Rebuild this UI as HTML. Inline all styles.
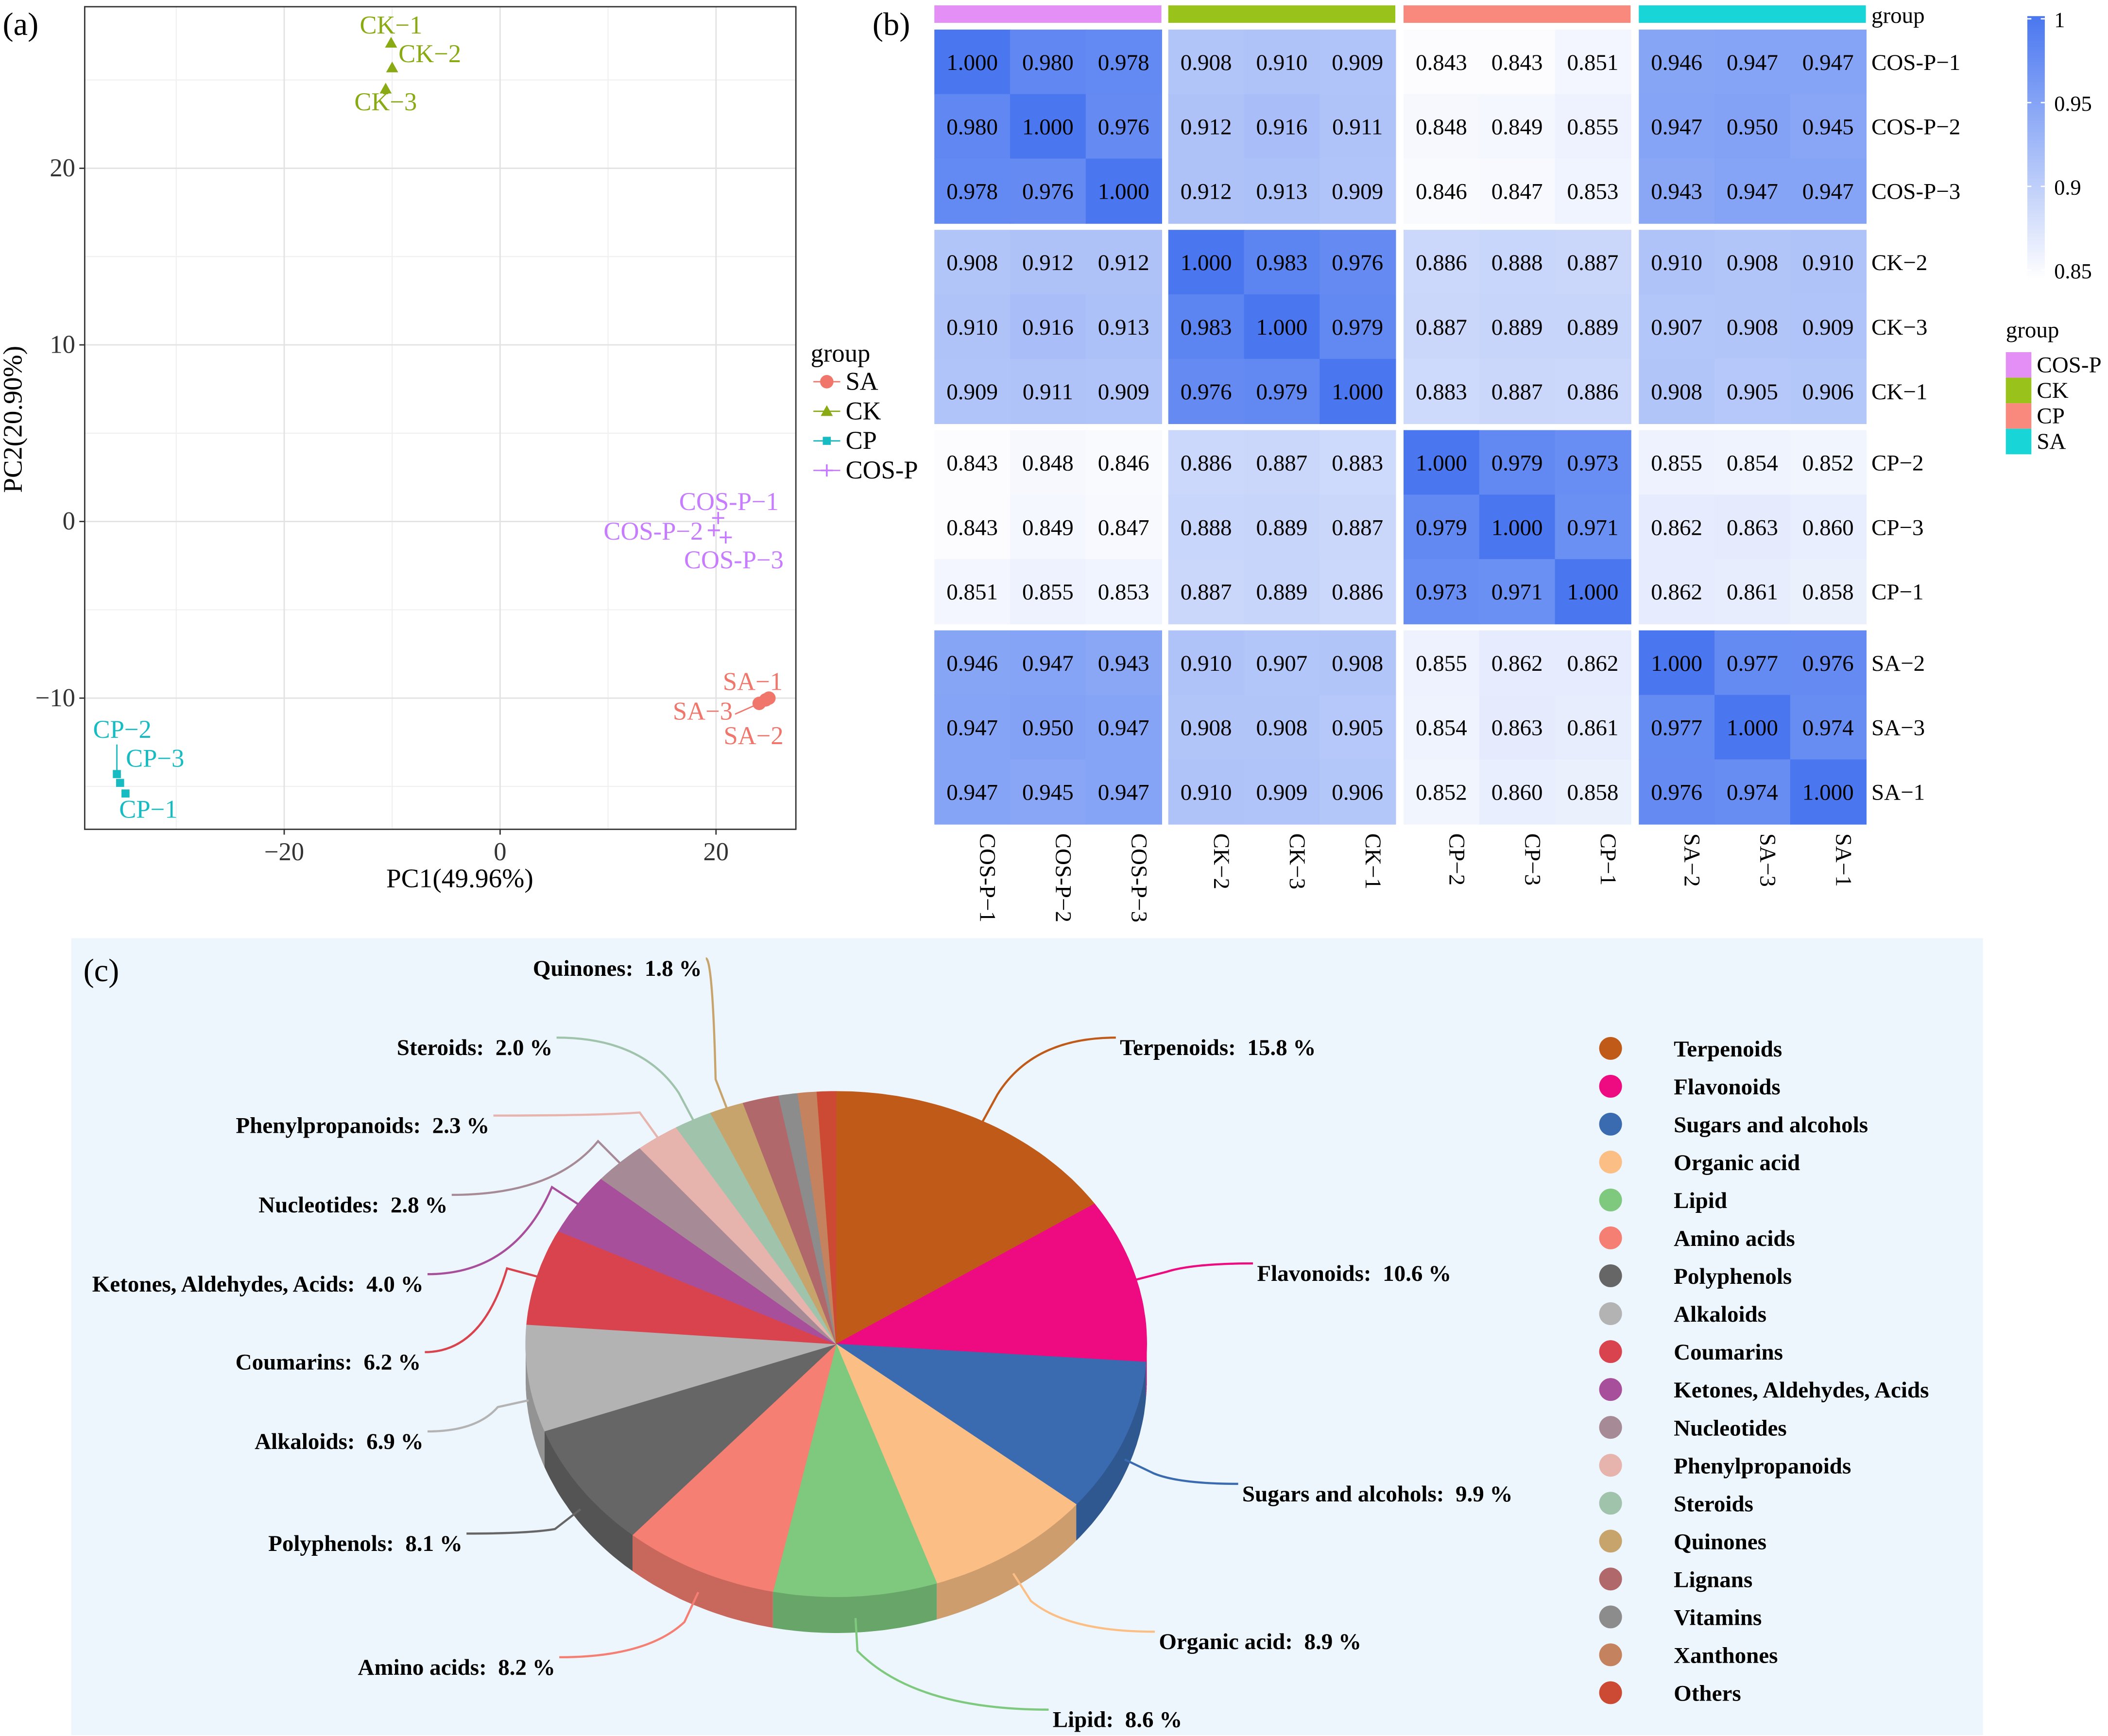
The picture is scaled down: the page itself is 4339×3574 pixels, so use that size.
<!DOCTYPE html>
<html><head><meta charset="utf-8"><style>
html,body{margin:0;padding:0;background:#fff;}
svg{display:block;}
svg text{font-family:"Liberation Serif","Times New Roman",serif;white-space:pre;}
</style></head><body>
<svg id="root" width="4339" height="3574" viewBox="0 0 1568 1291.6" preserveAspectRatio="none" xmlns="http://www.w3.org/2000/svg" font-family="Liberation Serif, serif">
<rect x="0" y="0" width="1568" height="1292" fill="#fff"/>
<g id="pa"></g>
<g id="pb"></g>
<g id="pc"></g>
</svg>
<script>
// ---------- Data: PCA ----------
const pcaGroups = ["SA","CK","CP","COS-P"];
const pcaColors = ["#f0766c","#8aaa14","#17bcc3","#c77cff"];
const pcaLabels = ["CK−1","CK−2","CK−3","COS-P−1","COS-P−2","COS-P−3","SA−1","SA−2","SA−3","CP−2","CP−3","CP−1"];
const pcaGroupOf = [1,1,1,3,3,3,0,0,0,2,2,2];
const pc1 = [-10.1,-10.0,-10.6,20.2,19.8,20.9,24.9,24.6,24.0,-35.5,-35.2,-34.7];
const pc2 = [27.1,25.7,24.5,0.2,-0.5,-0.9,-10.0,-10.1,-10.3,-14.3,-14.8,-15.4];
const xTicks = [-20,0,20];
const yTicks = [-10,0,10,20];
// ---------- Data: heatmap ----------
const hmNames = ["COS-P−1","COS-P−2","COS-P−3","CK−2","CK−3","CK−1","CP−2","CP−3","CP−1","SA−2","SA−3","SA−1"];
const hmGroupNames = ["COS-P","CK","CP","SA"];
const hmGroupColors = ["#e48ff5","#99c21a","#f8897c","#18d6d8"];
const hmValues = [
[1.000,0.980,0.978,0.908,0.910,0.909,0.843,0.843,0.851,0.946,0.947,0.947],
[0.980,1.000,0.976,0.912,0.916,0.911,0.848,0.849,0.855,0.947,0.950,0.945],
[0.978,0.976,1.000,0.912,0.913,0.909,0.846,0.847,0.853,0.943,0.947,0.947],
[0.908,0.912,0.912,1.000,0.983,0.976,0.886,0.888,0.887,0.910,0.908,0.910],
[0.910,0.916,0.913,0.983,1.000,0.979,0.887,0.889,0.889,0.907,0.908,0.909],
[0.909,0.911,0.909,0.976,0.979,1.000,0.883,0.887,0.886,0.908,0.905,0.906],
[0.843,0.848,0.846,0.886,0.887,0.883,1.000,0.979,0.973,0.855,0.854,0.852],
[0.843,0.849,0.847,0.888,0.889,0.887,0.979,1.000,0.971,0.862,0.863,0.860],
[0.851,0.855,0.853,0.887,0.889,0.886,0.973,0.971,1.000,0.862,0.861,0.858],
[0.946,0.947,0.943,0.910,0.907,0.908,0.855,0.862,0.862,1.000,0.977,0.976],
[0.947,0.950,0.947,0.908,0.908,0.905,0.854,0.863,0.861,0.977,1.000,0.974],
[0.947,0.945,0.947,0.910,0.909,0.906,0.852,0.860,0.858,0.976,0.974,1.000]];
const cbTicks = [1,0.95,0.9,0.85];
// ---------- Data: pie ----------
const pieNames = ["Terpenoids","Flavonoids","Sugars and alcohols","Organic acid","Lipid","Amino acids","Polyphenols","Alkaloids","Coumarins","Ketones, Aldehydes, Acids","Nucleotides","Phenylpropanoids","Steroids","Quinones","Lignans","Vitamins","Xanthones","Others"];
const pieValues = [15.8,10.6,9.9,8.9,8.6,8.2,8.1,6.9,6.2,4.0,2.8,2.3,2.0,1.8,1.9,1.0,1.0,1.0];
const pieColors = ["#c05a18","#ee0a80","#3a6bb0","#fbbf85","#7fc97f","#f47f72","#666666","#b3b3b3","#d8434e","#a84f9c","#a68a96","#e7b3ad","#a0c3ac","#c7a46c","#b0686a","#8c8c8c","#c4825e","#cc4a33"];
const pieLabeled = 14;

const NS="http://www.w3.org/2000/svg";
function mk(parent,tag,attrs,text){const e=document.createElementNS(NS,tag);for(const k in attrs)e.setAttribute(k,attrs[k]);if(tag==='text')e.setAttribute('font-family','Liberation Serif, serif');if(text!==undefined)e.textContent=text;parent.appendChild(e);return e;}

// ================= Panel A =================
(function(){
const g=document.getElementById('pa');
const L=63,R=592,T=5,B=617;
const sx=v=>372+v*8.03, sy=v=>388-v*13.14;
mk(g,'rect',{x:L,y:T,width:R-L,height:B-T,fill:'#fff'});
for(let v=-30;v<=30;v+=10){const x=sx(v);if(x>L&&x<R)mk(g,'line',{x1:x,x2:x,y1:T,y2:B,stroke:'#f0f0f0','stroke-width':0.8});}
for(let v=-15;v<=25;v+=10){const y=sy(v);if(y>T&&y<B)mk(g,'line',{x1:L,x2:R,y1:y,y2:y,stroke:'#f0f0f0','stroke-width':0.8});}
xTicks.forEach(v=>{const x=sx(v);mk(g,'line',{x1:x,x2:x,y1:T,y2:B,stroke:'#e2e2e2','stroke-width':1});
 mk(g,'line',{x1:x,x2:x,y1:B,y2:B+4,stroke:'#333'});
 const t=mk(g,'text',{x:x,y:B+23,'text-anchor':'middle','font-size':19,fill:'#333'},v<0?'−'+(-v):''+v);
 });
yTicks.forEach(v=>{const y=sy(v);mk(g,'line',{x1:L,x2:R,y1:y,y2:y,stroke:'#e2e2e2','stroke-width':1});
 mk(g,'line',{x1:L-4,x2:L,y1:y,y2:y,stroke:'#333'});
 const t=mk(g,'text',{x:L-7,y:y+6,'text-anchor':'end','font-size':19,fill:'#333'},v<0?'−'+(-v):''+v);
 });
mk(g,'rect',{x:L,y:T,width:R-L,height:B-T,fill:'none',stroke:'#333','stroke-width':1});
const xt=mk(g,'text',{x:342,y:660,'text-anchor':'middle','font-size':20},'PC1(49.96%)');

const yt=mk(g,'text',{x:0,y:0,'text-anchor':'middle','font-size':20,transform:'translate(16,312) rotate(-90)'},'PC2(20.90%)');

mk(g,'text',{x:2,y:26,'font-size':24},'(a)');
function marker(p,gi,x,y){const c=pcaColors[gi];
 if(gi===0)return mk(p,'circle',{cx:x,cy:y,r:5,fill:c});
 if(gi===1)return mk(p,'path',{d:`M${x} ${y-4.5}L${x+4.5} ${y+3.5}L${x-4.5} ${y+3.5}Z`,fill:c});
 if(gi===2)return mk(p,'rect',{x:x-3,y:y-3,width:6,height:6,fill:c});
 return mk(p,'path',{d:`M${x-4.5} ${y}H${x+4.5}M${x} ${y-4.5}V${y+4.5}`,stroke:c,'stroke-width':1.3});}
const labOff=[[0,-13],[28,-10],[0,10],[8,-12],[-45,1],[6,17],[-12,-12],[-9,27],[-42,6],[4,-33],[26,-18],[17,12]];
pc1.forEach((v,i)=>{const x=sx(v),y=sy(pc2[i]),gi=pcaGroupOf[i];
 const m=marker(g,gi,x,y);
 const t=mk(g,'text',{x:x+labOff[i][0],y:y+labOff[i][1]+6,'text-anchor':'middle','font-size':19,fill:pcaColors[gi]},pcaLabels[i]);
 });
mk(g,'line',{x1:sx(-35.5),y1:sy(-14.3)-22,x2:sx(-35.5),y2:sy(-14.3),stroke:pcaColors[2]});
mk(g,'line',{x1:sx(24.0)-18,y1:sy(-10.3)+8,x2:sx(24.0),y2:sy(-10.3),stroke:pcaColors[0]});
const lg=mk(g,'g',{});
mk(lg,'text',{x:603,y:269,'font-size':19},'group');
pcaGroups.forEach((n,i)=>{const y=284+i*22;mk(lg,'line',{x1:605,x2:625,y1:y,y2:y,stroke:pcaColors[i]});marker(lg,i,615,y);
 const t=mk(lg,'text',{x:629,y:y+6,'font-size':19},n);});
})();

// ================= Panel B =================
(function(){
const g=document.getElementById('pb');
const colX=[695,869,1044,1219], rowY=[22,171,320,469], cw=56.3, ch=48;
const cx=j=>colX[Math.floor(j/3)]+(j%3)*cw, cy=i=>rowY[Math.floor(i/3)]+(i%3)*ch;
function col(v){let t=(v-0.84)/0.16;t=Math.max(0,Math.min(1,t));
 const r=Math.round(255-t*(255-74)),gg=Math.round(255-t*(255-119)),b=Math.round(255-t*(255-240));return `rgb(${r},${gg},${b})`;}
hmGroupColors.forEach((c,k)=>{const r=mk(g,'rect',{x:colX[k],y:4,width:cw*3,height:13,fill:c});});
mk(g,'text',{x:1392,y:17,'font-size':17},'group');
hmValues.forEach((row,i)=>row.forEach((v,j)=>{
 const r=mk(g,'rect',{x:cx(j),y:cy(i),width:cw+0.5,height:ch+0.5,fill:col(v)});
 
 mk(g,'text',{x:cx(j)+cw/2,y:cy(i)+ch/2+6,'text-anchor':'middle','font-size':17},v.toFixed(3));}));
hmNames.forEach((n,i)=>{const t=mk(g,'text',{x:1392,y:cy(i)+ch/2+6,'font-size':17},n);
 const x=cx(i)+cw/2+6;const c=mk(g,'text',{x:0,y:0,'font-size':17,transform:`translate(${x},620) rotate(90)`},n);});
mk(g,'text',{x:649,y:26,'font-size':24},'(b)');
const d=mk(g,'defs',{});const lgd=mk(d,'linearGradient',{id:'cb',x1:0,y1:1,x2:0,y2:0});
[0.84,0.88,0.92,0.96,1.0].forEach((v,k)=>mk(lgd,'stop',{offset:(k/4),'stop-color':col(v)}));
const cbr=mk(g,'rect',{x:1508,y:12,width:13,height:196,fill:'url(#cb)'});
const cby=v=>14+(1-v)/0.15*187;
cbTicks.forEach(v=>{const y=cby(v);mk(g,'line',{x1:1508,x2:1511,y1:y,y2:y,stroke:'#fff'});mk(g,'line',{x1:1518,x2:1521,y1:y,y2:y,stroke:'#fff'});
 mk(g,'text',{x:1528,y:y+6,'font-size':16},v===1?'1':String(v));});
mk(g,'text',{x:1492,y:251,'font-size':17},'group');
hmGroupNames.forEach((n,k)=>{const y=262+k*19;mk(g,'rect',{x:1492,y:y,width:19,height:19,fill:hmGroupColors[k]});
 const t=mk(g,'text',{x:1515,y:y+15,'font-size':17},n);});
})();

// ================= Panel C =================
(function(){
const g=document.getElementById('pc');
mk(g,'rect',{x:53,y:698,width:1422,height:593,fill:'#eef6fd'});
mk(g,'text',{x:62,y:730,'font-size':24},'(c)');
const CX=622,CY=1000,RX=231,RY=188,DEP=27;
const total=pieValues.reduce((a,b)=>a+b,0);
const P=(a,dy)=>[CX+RX*Math.sin(a),CY-RY*Math.cos(a)+(dy||0)];
function dark(hex){const n=parseInt(hex.slice(1),16);const f=0.82;return `rgb(${Math.round((n>>16&255)*f)},${Math.round((n>>8&255)*f)},${Math.round((n&255)*f)})`;}
let acc=0;const angs=pieValues.map(v=>{const a0=acc/total*2*Math.PI;acc+=v;return [a0,acc/total*2*Math.PI];});
angs.forEach(([a0,a1],i)=>{const s=Math.max(a0,Math.PI/2),e=Math.min(a1,3*Math.PI/2);if(e<=s)return;
 let d='';const N=30;for(let k=0;k<=N;k++){const p=P(s+(e-s)*k/N);d+=(k?'L':'M')+p[0].toFixed(1)+' '+p[1].toFixed(1);}
 for(let k=N;k>=0;k--){const p=P(s+(e-s)*k/N,DEP);d+='L'+p[0].toFixed(1)+' '+p[1].toFixed(1);}
 mk(g,'path',{d:d+'Z',fill:dark(pieColors[i])});});
angs.forEach(([a0,a1],i)=>{let d=`M${CX} ${CY}`;const N=Math.max(4,Math.ceil((a1-a0)*40));
 for(let k=0;k<=N;k++){const p=P(a0+(a1-a0)*k/N);d+='L'+p[0].toFixed(1)+' '+p[1].toFixed(1);}
 const s=mk(g,'path',{d:d+'Z',fill:pieColors[i],stroke:pieColors[i],'stroke-width':0.4});
 });
const labPos=[[833,785,1],[935,953,1],[924,1117,1],[862,1227,1],[783,1285,1],[413,1246,0],[344,1154,0],[315,1078,0],[313,1019,0],[315,961,0],[333,902,0],[364,843,0],[411,785,0],[522,726,0]];
for(let i=0;i<pieLabeled;i++){const [a0,a1]=angs[i];const m=(a0+a1)/2;
 const front=Math.cos(m)<0;const p=P(m,front?DEP*0.6:0);
 const q=[CX+(p[0]-CX)*1.1,CY+(p[1]-CY)*1.12];
 const [lx,ly,right]=labPos[i];const ex=right?lx-3:lx+3,ey=ly-13;
 mk(g,'path',{d:`M${p[0]} ${p[1]}L${q[0]} ${q[1]}Q${q[0]+(ex-q[0])*0.3} ${ey} ${ex} ${ey}`,fill:'none',stroke:pieColors[i],'stroke-width':1.6});
 const t=mk(g,'text',{x:lx,y:ly,'text-anchor':right?'start':'end','font-size':17,'font-weight':'bold'},pieNames[i]+':\u00a0\u00a0'+pieValues[i].toFixed(1)+' %');
 }
pieNames.forEach((n,i)=>{const y=780+i*28.2;const c=mk(g,'circle',{cx:1198,cy:y,r:8.5,fill:pieColors[i]});
 
 const t=mk(g,'text',{x:1245,y:y+6,'font-size':17,'font-weight':'bold'},n);});
})();
</script>
</body></html>
